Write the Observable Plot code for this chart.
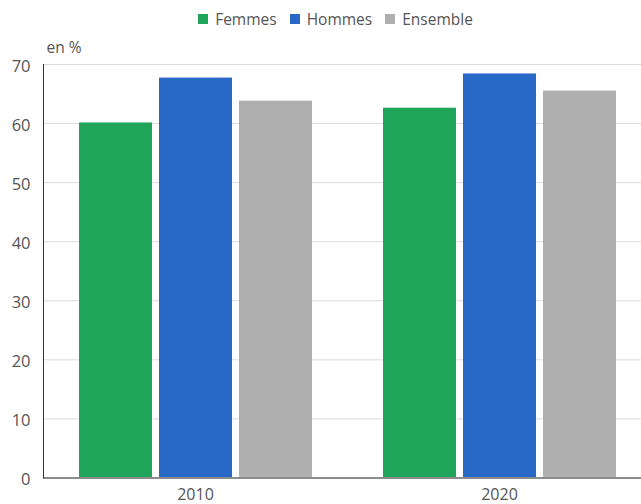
<!DOCTYPE html>
<html><head><meta charset="utf-8">
<script src="https://cdn.jsdelivr.net/npm/d3@7"></script>
<script src="https://cdn.jsdelivr.net/npm/@observablehq/plot@0.6"></script>
<style>
body{margin:0;background:#fff;font-family:"Open Sans",sans-serif;}
#legend{height:30px;display:flex;justify-content:center;align-items:flex-start;font-size:15.5px;line-height:16px;color:#555;padding-left:30px;padding-top:11px;box-sizing:border-box;}
#legend .item{display:flex;align-items:center;margin:0 6.5px;}
#legend .sw{width:10px;height:10px;margin-right:7px;}
</style></head><body><div id="legend"></div><div id="chart"></div>
<script>
const years = ["2010", "2020"];
const series = ["Femmes", "Hommes", "Ensemble"];
const colors = ["#1ea55a", "#2869c8", "#b0afb0"];
const femmes = [60.1, 62.6];
const hommes = [67.7, 68.4];
const ensemble = [63.8, 65.5];
const yTicks = [0, 10, 20, 30, 40, 50, 60, 70];
const unitLabel = "en %";

const values = [femmes, hommes, ensemble];
const data = years.flatMap((yr, i) => series.map((s, j) => ({year: yr, serie: s, value: values[j][i]})));

const leg = document.getElementById("legend");
series.forEach((s, j) => {
  const it = document.createElement("div"); it.className = "item";
  const sw = document.createElement("div"); sw.className = "sw"; sw.style.background = colors[j];
  const t = document.createElement("span"); t.textContent = s;
  it.append(sw, t); leg.append(it);
});

const chart = Plot.plot({
  width: 641, height: 474,
  marginLeft: 43, marginRight: 0, marginTop: 34, marginBottom: 26.5,
  style: {fontFamily: "Open Sans", fontSize: "16.5px", color: "#555", background: "#fff"},
  fx: {domain: years, range: [43, 651], padding: 0, label: null},
  x: {domain: series, paddingInner: 0.09, paddingOuter: 0.43, axis: null},
  y: {domain: [0, 70]},
  color: {domain: series, range: colors},
  marks: [
    Plot.gridY(yTicks, {stroke: "#dcdcdc", strokeOpacity: 1}),
    Plot.barY(data, {fx: "year", x: "serie", y: "value", fill: "serie"}),
    Plot.ruleY([0], {stroke: "#8c8c8c", strokeWidth: 2}),
    Plot.frame({anchor: "left", facetAnchor: "left", stroke: "#333"}),
    Plot.axisY(yTicks, {tickSize: 0, tickPadding: 13, dy: 2, label: null}),
    Plot.text([unitLabel], {text: d => d, frameAnchor: "top-left", textAnchor: "start", lineAnchor: "bottom", dx: 3, dy: -12, fontSize: 15.5, fill: "#555", facetAnchor: "left"}),
    Plot.axisFx({anchor: "bottom", tickSize: 0, tickPadding: 11, fontSize: 16, label: null})
  ]
});
document.getElementById("chart").append(chart);
</script></body></html>
